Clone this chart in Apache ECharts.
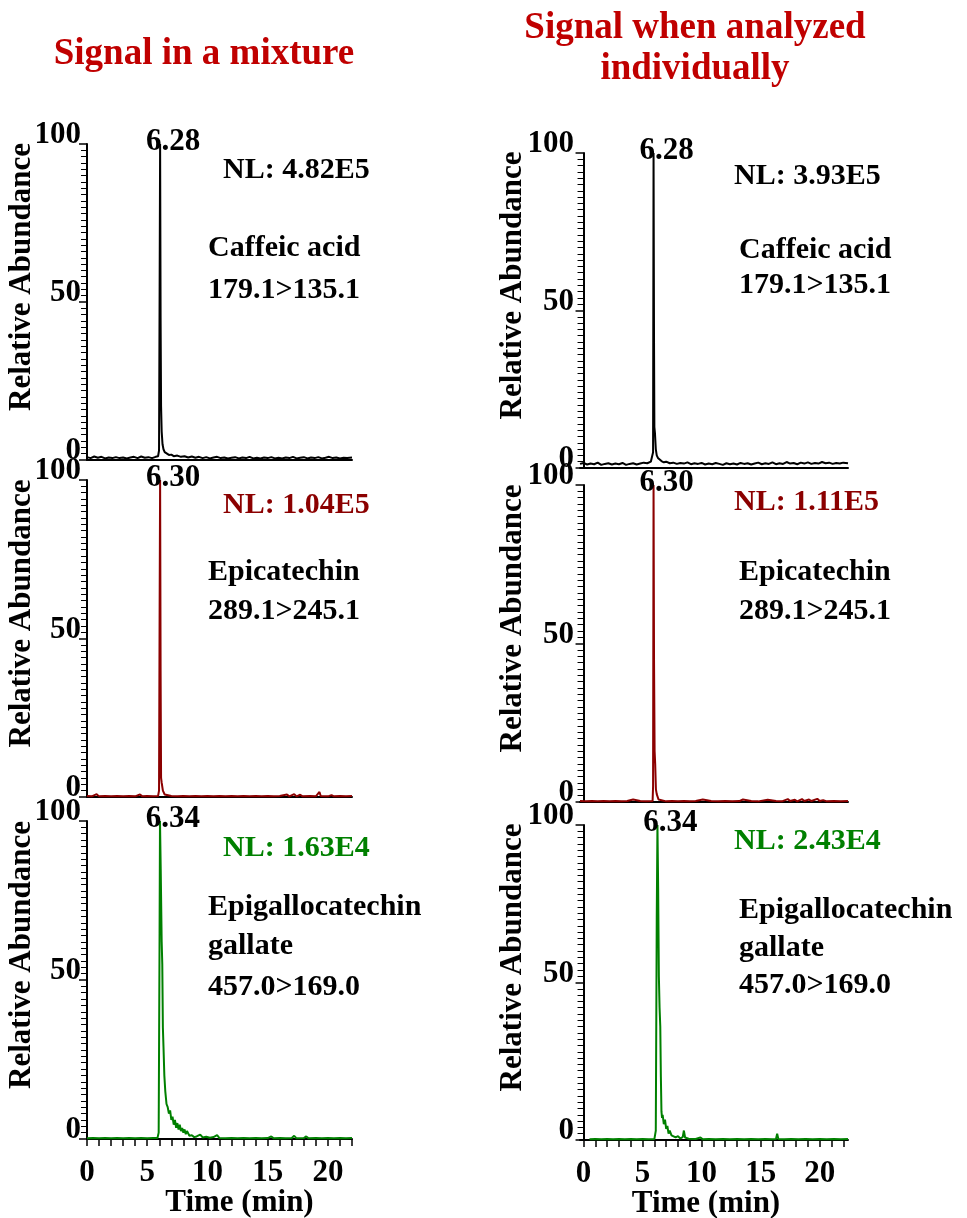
<!DOCTYPE html>
<html>
<head>
<meta charset="utf-8">
<script src="https://cdn.jsdelivr.net/npm/echarts@6/dist/echarts.min.js"></script>
<style>
html,body{margin:0;padding:0;background:#fff;}
#chart{width:967px;height:1218px;}
</style>
</head>
<body>
<div id="chart"></div>
<script>
// ---------- DATA ----------
const columnTitles = ['Signal in a mixture', 'Signal when analyzed', 'individually'];
const compounds = [['Caffeic acid', '179.1>135.1'], ['Epicatechin', '289.1>245.1'], ['Epigallocatechin', 'gallate', '457.0>169.0']];
const nlMixture = ['NL: 4.82E5', 'NL: 1.04E5', 'NL: 1.63E4'];
const nlIndividual = ['NL: 3.93E5', 'NL: 1.11E5', 'NL: 2.43E4'];
const peakLabels = ['6.28', '6.30', '6.34'];
const yTickValues = [0, 50, 100];
const timeTicks = [0,1,2,3,4,5,6,7,8,9,10,11,12,13,14,15,16,17,18,19,20,21,22];
const timeLabels = [0, 5, 10, 15, 20];
const yAxisTitle = 'Relative Abundance';
const xAxisTitle = 'Time (min)';

// [time (min), relative abundance (%)]
const mixCaffeic = [[0,0.9],[0.3,0.6],[0.6,1.1],[0.9,0.7],[1.2,1.0],[1.5,0.5],[1.8,0.8],[2.1,0.6],[2.4,0.9],[2.7,0.6],[3.0,0.8],[3.3,0.5],[3.6,0.8],[3.9,1.0],[4.2,0.6],[4.5,1.1],[4.8,0.7],[5.1,0.9],[5.4,0.6],[5.7,1.0],[5.9,1.2],[5.98,3],[6.03,55],[6.07,100],[6.11,45],[6.15,17],[6.2,9],[6.27,5],[6.35,3.4],[6.45,2.5],[6.6,2.0],[6.8,1.6],[7.0,1.7],[7.2,1.2],[7.5,1.4],[7.8,1.0],[8.1,1.2],[8.4,0.8],[8.7,1.1],[9.0,0.7],[9.3,1.0],[9.6,0.6],[9.9,0.9],[10.2,0.5],[10.5,0.8],[10.8,1.0],[11.1,0.6],[11.4,0.8],[11.7,0.5],[12.0,0.7],[12.3,0.9],[12.6,0.5],[12.9,0.8],[13.2,0.6],[13.5,1.0],[13.8,0.5],[14.1,0.7],[14.4,0.5],[14.7,0.8],[15.0,0.6],[15.3,0.9],[15.6,0.5],[15.9,0.7],[16.2,0.5],[16.5,0.8],[16.8,0.6],[17.1,1.0],[17.4,0.5],[17.7,0.7],[18.0,0.9],[18.3,0.5],[18.6,0.8],[18.9,0.6],[19.2,0.9],[19.5,0.5],[19.8,0.7],[20.1,1.0],[20.4,0.6],[20.7,0.8],[21.0,0.5],[21.3,0.7],[21.6,0.6],[22.0,0.8]];
const mixEpicatechin = [[0,0.3],[0.4,0.2],[0.8,0.9],[1.0,0.2],[1.5,0.3],[2.0,0.2],[2.5,0.3],[3.0,0.2],[3.5,0.3],[4.0,0.2],[4.4,0.8],[4.6,0.2],[5.0,0.3],[5.5,0.2],[5.9,0.3],[5.98,2],[6.03,60],[6.07,100],[6.11,40],[6.15,6],[6.2,4.5],[6.3,2],[6.45,0.8],[6.6,0.4],[7.0,0.3],[7.5,0.2],[8.0,0.3],[8.5,0.2],[9.0,0.3],[9.5,0.2],[10.0,0.3],[10.5,0.2],[11.0,0.3],[11.5,0.2],[12.0,0.3],[12.5,0.2],[13.0,0.3],[13.5,0.2],[14.0,0.3],[14.5,0.2],[15.0,0.3],[15.5,0.2],[16.0,0.3],[16.6,0.8],[16.8,0.2],[17.2,0.9],[17.4,0.2],[17.7,0.7],[17.9,0.2],[18.5,0.3],[19.0,0.2],[19.3,1.6],[19.4,0.3],[20.0,0.2],[20.3,0.6],[20.5,0.2],[21.0,0.3],[21.5,0.2],[22.0,0.3]];
const mixEGCG = [[0,0.2],[0.5,0.3],[1.0,0.2],[1.5,0.3],[2.0,0.2],[2.5,0.3],[3.0,0.2],[3.5,0.3],[4.0,0.2],[4.5,0.3],[5.0,0.2],[5.5,0.3],[5.85,0.3],[5.95,2],[6.02,60],[6.06,100],[6.12,85],[6.2,62],[6.25,55],[6.3,35],[6.35,29],[6.42,20],[6.5,15],[6.6,11],[6.7,10],[6.8,8],[6.9,9],[7.0,6],[7.1,7],[7.2,4.5],[7.3,6],[7.4,3.5],[7.5,5],[7.6,3],[7.7,4.5],[7.8,2.5],[7.9,3.5],[8.0,2],[8.1,3],[8.2,1.5],[8.3,2.5],[8.5,1],[8.7,1.2],[8.9,0.6],[9.1,0.8],[9.4,1.4],[9.6,0.5],[9.9,0.7],[10.2,0.4],[10.5,0.6],[10.8,1.2],[11.0,0.3],[11.5,0.2],[12.0,0.3],[12.5,0.2],[13.0,0.3],[13.5,0.2],[14.0,0.3],[14.5,0.2],[15.0,0.3],[15.3,0.8],[15.5,0.2],[16.0,0.3],[16.5,0.2],[17.0,0.3],[17.2,1.0],[17.4,0.2],[18.0,0.3],[18.2,0.8],[18.4,0.2],[19.0,0.3],[19.5,0.2],[20.0,0.3],[20.5,0.2],[21.0,0.3],[21.5,0.2],[22.0,0.3]];
const indCaffeic = [[-0.3,1.3],[0.0,1.6],[0.3,1.1],[0.6,1.4],[0.9,1.2],[1.2,1.7],[1.5,1.0],[1.8,1.3],[2.1,1.5],[2.4,1.1],[2.7,1.4],[3.0,1.2],[3.3,1.6],[3.6,1.0],[3.9,1.3],[4.2,1.5],[4.5,1.1],[4.8,1.4],[5.1,1.7],[5.4,1.5],[5.7,2.0],[5.85,2.2],[5.89,5],[5.93,100],[5.97,40],[6.0,13],[6.05,11],[6.12,6],[6.2,4],[6.3,3.2],[6.45,2.6],[6.6,2.2],[6.8,1.8],[7.0,2.0],[7.3,1.5],[7.6,1.7],[7.9,1.3],[8.2,1.6],[8.5,1.4],[8.8,1.8],[9.1,1.2],[9.4,1.5],[9.7,1.3],[10.0,1.6],[10.3,1.1],[10.6,1.4],[10.9,1.2],[11.2,1.6],[11.5,1.3],[11.8,1.0],[12.1,1.5],[12.4,1.2],[12.7,1.4],[13.0,1.1],[13.3,1.6],[13.6,1.3],[13.9,1.5],[14.2,1.1],[14.5,1.4],[14.8,1.7],[15.1,1.2],[15.4,1.5],[15.7,1.3],[16.0,1.8],[16.3,1.2],[16.6,1.5],[16.9,1.3],[17.2,1.9],[17.5,1.4],[17.8,1.6],[18.1,1.2],[18.4,1.7],[18.7,1.4],[19.0,1.8],[19.3,1.3],[19.6,1.6],[19.9,1.4],[20.2,1.9],[20.5,1.5],[20.8,1.7],[21.1,1.3],[21.4,1.6],[21.7,1.4],[22.0,1.7],[22.4,1.5]];
const indEpicatechin = [[-0.3,0.3],[0.2,0.2],[0.7,0.3],[1.2,0.2],[1.7,0.3],[2.2,0.2],[2.7,0.3],[3.2,0.2],[3.7,0.3],[4.2,0.8],[4.3,0.2],[4.8,0.3],[5.3,0.2],[5.85,0.3],[5.89,5],[5.93,100],[5.97,45],[6.02,16],[6.07,12],[6.13,4],[6.2,2.5],[6.35,0.8],[6.5,0.3],[7.0,0.2],[7.5,0.3],[8.0,0.2],[8.5,0.3],[9.0,0.2],[9.5,0.3],[10.1,0.8],[10.2,0.2],[10.8,0.3],[11.4,0.2],[12.0,0.3],[12.6,0.2],[13.2,0.3],[13.5,0.8],[13.6,0.2],[14.2,0.3],[14.8,0.2],[15.6,0.7],[15.7,0.2],[16.3,0.3],[16.8,0.2],[17.3,0.9],[17.5,0.3],[17.9,0.7],[18.1,0.2],[18.5,0.9],[18.7,0.3],[19.1,0.8],[19.3,0.3],[19.8,1.0],[20.0,0.3],[20.3,0.6],[20.6,0.2],[21.2,0.3],[21.8,0.2],[22.4,0.3]];
const indEGCG = [[0.5,0.2],[1.0,0.3],[1.5,0.2],[2.0,0.3],[2.5,0.2],[3.0,0.3],[3.5,0.2],[4.0,0.3],[4.5,0.2],[5.0,0.3],[5.5,0.2],[6.0,0.3],[6.12,3],[6.2,70],[6.26,100],[6.32,80],[6.38,52],[6.44,42],[6.5,36],[6.55,20],[6.6,9],[6.65,7],[6.7,8],[6.8,5],[6.9,6.5],[7.0,3.5],[7.1,4.5],[7.2,2],[7.3,3],[7.45,1.5],[7.6,2],[7.8,0.8],[8.0,1.2],[8.2,0.5],[8.4,0.9],[8.5,3],[8.6,0.8],[8.9,0.4],[9.5,0.3],[9.9,0.8],[10.1,0.2],[10.6,0.3],[11.2,0.2],[11.8,0.3],[12.4,0.2],[13.0,0.3],[13.6,0.2],[14.2,0.3],[14.8,0.2],[15.4,0.3],[16.0,0.2],[16.3,0.3],[16.4,2],[16.5,0.3],[17.0,0.2],[17.6,0.3],[18.2,0.2],[18.8,0.3],[19.4,0.2],[20.0,0.3],[20.6,0.2],[21.2,0.3],[21.8,0.2],[22.4,0.3]];

// ---------- STYLE / LAYOUT ----------
const FONT = "'Liberation Serif', 'Times New Roman', serif";
const COLORS = ['#000000', '#8B0000', '#008000'];
const TITLE_RED = '#C00000';

const panels = [
  {data: mixCaffeic,     grid: {left: 87,  top: 144, width: 265, height: 316}, xr: [0, 22],     color: COLORS[0], bottom: false, label: peakLabels[0], yGap: 50},
  {data: mixEpicatechin, grid: {left: 87,  top: 480, width: 265, height: 317}, xr: [0, 22],     color: COLORS[1], bottom: false, label: peakLabels[1], yGap: 50},
  {data: mixEGCG,        grid: {left: 87,  top: 821, width: 265, height: 318}, xr: [0, 22],     color: COLORS[2], bottom: true,  label: peakLabels[2], yGap: 50, namePad: [0,0,0,40]},
  {data: indCaffeic,     grid: {left: 580, top: 153, width: 268, height: 315}, xr: [-0.3, 22.4], color: COLORS[0], bottom: false, label: peakLabels[0], yGap: 52},
  {data: indEpicatechin, grid: {left: 580, top: 485, width: 268, height: 317}, xr: [-0.3, 22.4], color: COLORS[1], bottom: false, label: peakLabels[1], yGap: 52},
  {data: indEGCG,        grid: {left: 580, top: 825, width: 268, height: 315}, xr: [-0.3, 22.4], color: COLORS[2], bottom: true,  label: peakLabels[2], yGap: 52, namePad: [0,16,0,0]}
];

function apex(data) {
  let best = data[0];
  data.forEach(function (p) { if (p[1] > best[1]) best = p; });
  return best;
}

const grids = [], xAxes = [], yAxes = [], series = [];
panels.forEach(function (p, i) {
  grids.push(Object.assign({containLabel: false, outerBoundsMode: 'none'}, p.grid));
  const xa = {
    type: 'value', gridIndex: i, min: p.xr[0], max: p.xr[1],
    axisLine: {show: true, onZero: false, lineStyle: {color: '#000', width: 2}},
    splitLine: {show: false},
    axisTick: {show: false},
    axisLabel: {show: false}
  };
  if (p.bottom) {
    xa.axisTick = {show: true, customValues: timeTicks, length: 7, lineStyle: {color: '#000', width: 1.5}};
    xa.axisLabel = {show: true, customValues: timeLabels, margin: 18, color: '#000',
      fontFamily: FONT, fontWeight: 'bold', fontSize: 31};
    xa.name = xAxisTitle;
    xa.nameLocation = 'middle';
    xa.nameGap = 48;
    xa.nameMoveOverlap = false;
    xa.nameTextStyle = {color: '#000', fontFamily: FONT, fontWeight: 'bold', fontSize: 31, padding: p.namePad};
  }
  xAxes.push(xa);
  yAxes.push({
    type: 'value', gridIndex: i, min: 0, max: 100, interval: 50,
    axisLine: {show: true, lineStyle: {color: '#000', width: 2}},
    axisTick: {show: true, length: 8, lineStyle: {color: '#000', width: 1.5}},
    minorTick: {show: true, splitNumber: 25, length: 6, lineStyle: {color: '#000', width: 1}},
    splitLine: {show: false}, minorSplitLine: {show: false},
    axisLabel: {show: true, margin: 6, color: '#000', fontFamily: FONT, fontWeight: 'bold', fontSize: 31,
      verticalAlign: 'bottom', lineHeight: 18,
      customValues: yTickValues},
    name: yAxisTitle, nameLocation: 'middle', nameGap: p.yGap, nameMoveOverlap: false,
    nameTextStyle: {color: '#000', fontFamily: FONT, fontWeight: 'bold', fontSize: 31, padding: [0, 0, 0, 50]}
  });
  const top = apex(p.data);
  series.push({
    type: 'line', xAxisIndex: i, yAxisIndex: i, data: p.data,
    showSymbol: false, symbol: 'none', silent: true, animation: false,
    lineStyle: {color: p.color, width: 2}, itemStyle: {color: p.color},
    markPoint: {
      symbol: 'circle', symbolSize: 1, silent: true, animation: false,
      itemStyle: {color: 'rgba(0,0,0,0)'},
      label: {show: true, position: 'inside', offset: [13, -2], color: '#000', fontFamily: FONT,
        fontWeight: 'bold', fontSize: 31, formatter: function () { return p.label; }},
      data: [{coord: top}]
    }
  });
});

function txt(x, y, text, color, size, align) {
  return {type: 'text', x: x, y: y, silent: true,
    style: {text: text, fill: color, font: 'bold ' + size + 'px ' + FONT,
      align: align || 'left', verticalAlign: 'middle'}};
}

const graphics = [
  txt(204, 54, columnTitles[0], TITLE_RED, 37, 'center'),
  txt(695, 28, columnTitles[1], TITLE_RED, 37, 'center'),
  txt(695, 69, columnTitles[2], TITLE_RED, 37, 'center'),
  // mixture column
  txt(223, 170, nlMixture[0], COLORS[0], 30),
  txt(208, 248, compounds[0][0], '#000', 30),
  txt(208, 290, compounds[0][1], '#000', 30),
  txt(223, 505, nlMixture[1], COLORS[1], 30),
  txt(208, 572, compounds[1][0], '#000', 30),
  txt(208, 611, compounds[1][1], '#000', 30),
  txt(223, 848, nlMixture[2], COLORS[2], 30),
  txt(208, 907, compounds[2][0], '#000', 30),
  txt(208, 946, compounds[2][1], '#000', 30),
  txt(208, 987, compounds[2][2], '#000', 30),
  // individual column
  txt(734, 176, nlIndividual[0], COLORS[0], 30),
  txt(739, 250, compounds[0][0], '#000', 30),
  txt(739, 285, compounds[0][1], '#000', 30),
  txt(734, 502, nlIndividual[1], COLORS[1], 30),
  txt(739, 572, compounds[1][0], '#000', 30),
  txt(739, 611, compounds[1][1], '#000', 30),
  txt(734, 841, nlIndividual[2], COLORS[2], 30),
  txt(739, 910, compounds[2][0], '#000', 30),
  txt(739, 948, compounds[2][1], '#000', 30),
  txt(739, 985, compounds[2][2], '#000', 30)
];

const chart = echarts.init(document.getElementById('chart'), null, {renderer: 'canvas'});
chart.setOption({
  backgroundColor: '#fff',
  animation: false,
  grid: grids, xAxis: xAxes, yAxis: yAxes, series: series,
  graphic: graphics
});
</script>
</body>
</html>
